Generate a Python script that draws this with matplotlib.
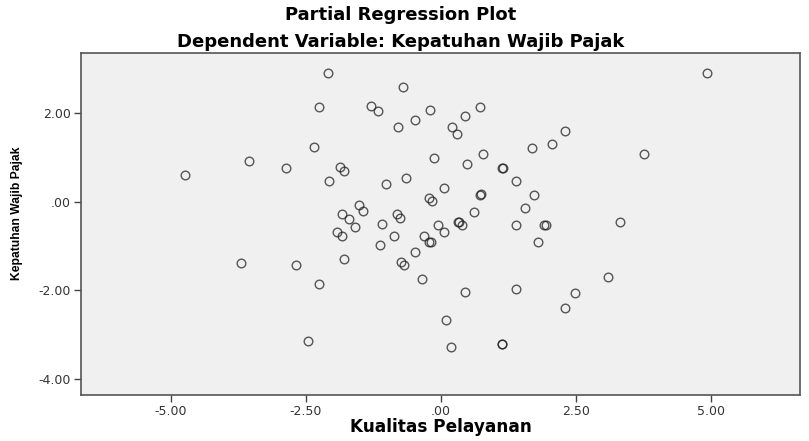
"""
Partial regression plot: Kualitas Pelayanan vs Kepatuhan Wajib Pajak
"""
import matplotlib
matplotlib.use('Agg')
import matplotlib.pyplot as plt
from matplotlib import font_manager

# residual values (x: Kualitas Pelayanan, y: Kepatuhan Wajib Pajak)
kualitas = [-2.08, -2.25, -2.34, -3.55, -2.86, -4.74, -1.866, -1.79, -2.06, -1.835,
            -1.70, -1.92, -1.835, -3.70, -2.686, -1.79, -2.25, -2.45, -0.70, -1.29,
            -1.16, -0.20, 0.73, 0.44, -0.48, -0.79, 0.215, 0.308, 2.296, 1.68,
            2.06, -0.12, 0.78, 0.49, 1.14, 1.16, -0.65, -1.01, 0.06, 1.39,
            -0.21, -0.17, 0.73, 0.75, 1.73, -1.52, -1.44, 1.55, 0.62, -0.815,
            -0.75, -1.09, -0.06, 0.32, 0.34, 0.39, 1.39, 1.92, 1.94, -1.59,
            0.06, -1.12, -0.86, -0.31, -0.21, -0.19, 1.80, -0.74, -0.68, -0.48,
            -0.35, 0.44, 1.40, 2.48, 2.30, 0.09, 0.19, 1.13, 1.14, 3.31,
            3.09, 4.92, 3.77]
kepatuhan = [2.90, 2.13, 1.23, 0.93, 0.76, 0.61, 0.78, 0.69, 0.47, -0.29,
             -0.39, -0.69, -0.77, -1.38, -1.44, -1.30, -1.85, -3.14, 2.60, 2.17,
             2.06, 2.07, 2.15, 1.93, 1.84, 1.68, 1.68, 1.54, 1.60, 1.22,
             1.31, 0.99, 1.08, 0.86, 0.77, 0.76, 0.54, 0.39, 0.31, 0.47,
             0.09, 0.02, 0.16, 0.17, 0.16, -0.08, -0.21, -0.15, -0.24, -0.29,
             -0.36, -0.51, -0.52, -0.45, -0.46, -0.53, -0.53, -0.53, -0.52, -0.58,
             -0.69, -0.99, -0.77, -0.77, -0.92, -0.92, -0.92, -1.37, -1.44, -1.14,
             -1.75, -2.05, -1.98, -2.06, -2.40, -2.68, -3.28, -3.21, -3.21, -0.45,
             -1.70, 2.91, 1.08]

xticks = [-5.0, -2.5, 0.0, 2.5, 5.0]
xtick_labels = ['-5.00', '-2.50', '.00', '2.50', '5.00']
yticks = [-4.0, -2.0, 0.0, 2.0]
ytick_labels = ['-4.00', '-2.00', '.00', '2.00']

plt.rcParams['font.family'] = ['DejaVu Sans']

# narrow font for the vertical label if it is there
try:
    font_manager.findfont('Liberation Sans Narrow', fallback_to_default=False)
    ylab_family, ylab_size = 'Liberation Sans Narrow', 10.6
except Exception:
    ylab_family, ylab_size = 'Liberation Sans', 8.7

fig = plt.figure(figsize=(8.09, 4.41), dpi=100)
ax = fig.add_axes([0.1001, 0.1043, 0.8888, 0.7755])
ax.set_facecolor('#f0f0f0')

ax.plot(kualitas, kepatuhan, linestyle='none', marker='o', markersize=6.2,
        markerfacecolor='none', markeredgecolor='#222222', markeredgewidth=1.0,
        alpha=0.75)

ax.set_xlim(-6.66, 6.65)
ax.set_ylim(-4.37, 3.36)
ax.set_xticks(xticks)
ax.set_xticklabels(xtick_labels)
ax.set_yticks(yticks)
ax.set_yticklabels(ytick_labels)
ax.tick_params(direction='out', length=5, width=1.0, color='#444444',
               labelsize=9, labelcolor='#333333', pad=2.5)

for side in ax.spines.values():
    side.set_color('#555555')
    side.set_linewidth(1.2)

ax.set_xlabel('Kualitas Pelayanan', fontsize=12.2, fontweight='bold', va='center')
ax.xaxis.set_label_coords(0.5, -0.094)
ax.set_ylabel('Kepatuhan Wajib Pajak', fontsize=ylab_size, fontweight='bold',
              family=ylab_family, va='center')
ax.yaxis.set_label_coords(-0.089, 0.53)

fig.text(0.495, 0.966, 'Partial Regression Plot', ha='center', va='center',
         fontsize=13, fontweight='bold')
fig.text(0.495, 0.905, 'Dependent Variable: Kepatuhan Wajib Pajak', ha='center',
         va='center', fontsize=13, fontweight='bold')

fig.savefig('out.png', dpi=100)
